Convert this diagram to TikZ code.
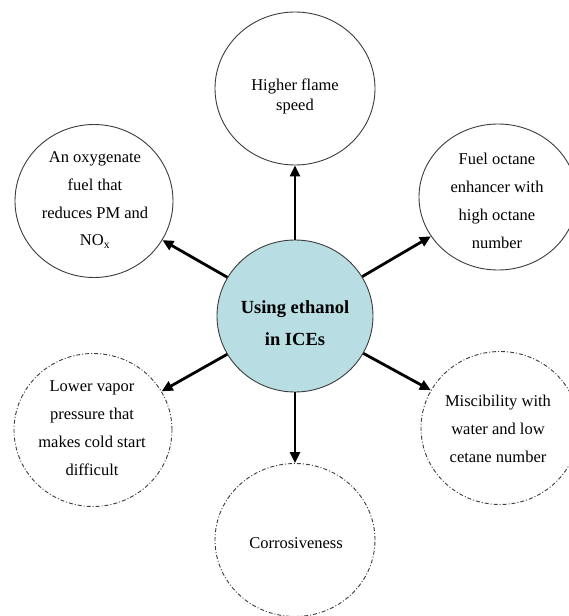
\documentclass[tikz,border=0pt]{standalone}
\usepackage{fontspec}
\setmainfont{Liberation Serif}
\usetikzlibrary{shapes.geometric,arrows.meta}
\definecolor{hubfill}{RGB}{184,222,227}
\definecolor{rimgray}{RGB}{60,60,60}
\begin{document}
\begin{tikzpicture}[x=1pt,y=-1pt,
  solidcirc/.style={ellipse,draw=rimgray,line width=0.9pt,minimum width=158pt,minimum height=153pt,inner sep=0pt},
  dashcirc/.style={ellipse,draw=rimgray,line width=0.9pt,dash pattern=on 4pt off 2pt on 1pt off 2pt,minimum width=158pt,minimum height=153pt,inner sep=0pt},
  hub/.style={ellipse,draw=rimgray,line width=0.9pt,fill=hubfill,minimum width=156pt,minimum height=152pt,inner sep=0pt},
  lbl/.style={align=center,inner sep=0pt,font=\fontsize{16.5}{27.8}\selectfont},
  hublbl/.style={align=center,inner sep=0pt,font=\fontsize{18.5}{32}\selectfont\bfseries},
  arr/.style={line width=2.8pt,-{Triangle[length=11pt,width=10pt]}}]
\useasboundingbox (0,0) rectangle (568,616);
\fill[white] (0,0) rectangle (568,616);
% circles
\node[hub] (C) at (295,316) {};
\node[solidcirc,minimum width=160pt] (T) at (295,88.5) {};
\node[solidcirc] (UL) at (94,201) {};
\node[solidcirc,minimum height=146pt] (UR) at (498,197) {};
\node[dashcirc] (LL) at (93,430) {};
\node[dashcirc] (LR) at (500,428) {};
\node[dashcirc,minimum width=160pt] (B) at (295,540) {};
% labels
\node[hublbl] (Ct) at (295,323) {Using ethanol\\in ICEs};
\node[lbl,font=\fontsize{16.5}{20}\selectfont] (Tt) at (295,96) {Higher flame\\speed};
\node[lbl] (ULt) at (95,200) {An oxygenate\\fuel that\\reduces PM and\\NO\textsubscript{x}};
\node[lbl] (URt) at (497,201) {Fuel octane\\enhancer with\\high octane\\number};
\node[lbl] (LLt) at (92,428) {Lower vapor\\pressure that\\makes cold start\\difficult};
\node[lbl] (LRt) at (498,429) {Miscibility with\\water and low\\cetane number};
\node[lbl] (Bt) at (296,543) {Corrosiveness};
% arrows
\draw[arr] (C) -- (T);
\draw[arr] (C) -- (UL);
\draw[arr] (C) -- (UR);
\draw[arr] (C) -- (LL);
\draw[arr] (C) -- (LR);
\draw[arr] (C) -- (B);
\end{tikzpicture}
\end{document}
